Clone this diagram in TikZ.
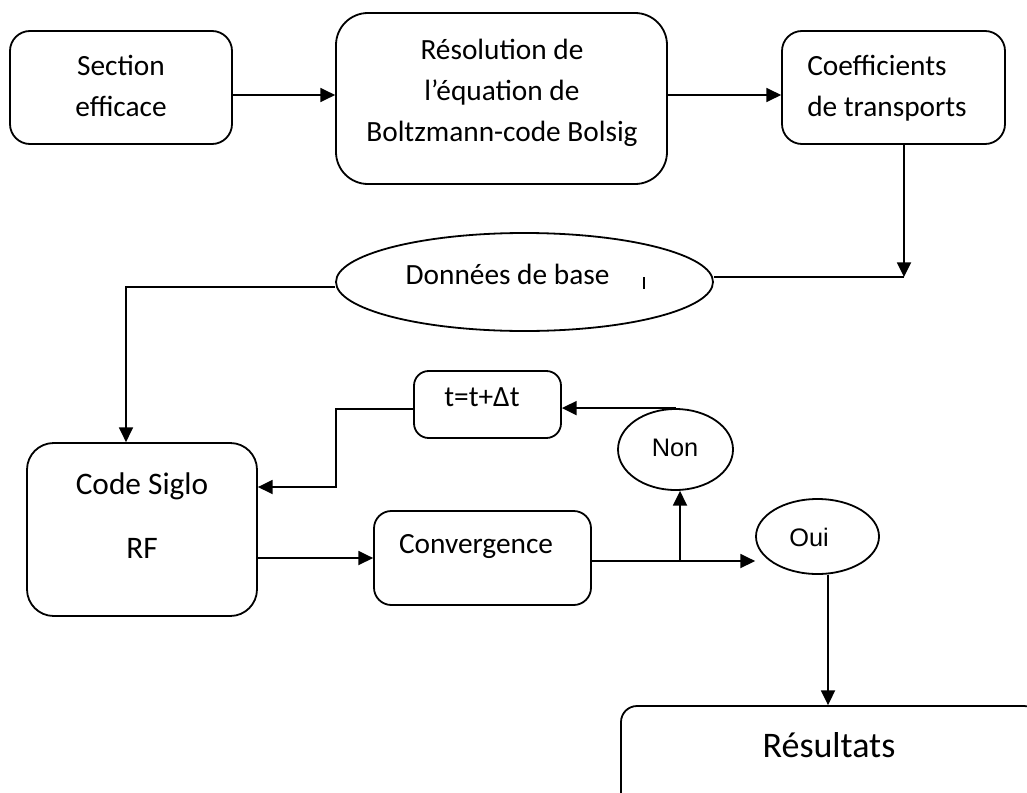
\documentclass[tikz,border=0pt]{standalone}
\usepackage{fontspec}
\setmainfont{Carlito}
\newfontfamily\arialf{Liberation Sans}
\usetikzlibrary{arrows.meta,shapes.geometric}
\tikzset{
  box/.style={draw,line width=1.35pt,rounded corners=#1,inner sep=0pt},
  oval/.style={draw,ellipse,line width=1.35pt,inner sep=0pt},
  txt/.style={inner sep=0pt,font=\fontsize{22pt}{31pt}\selectfont,align=center},
  arr/.style={line width=1.35pt,-{Triangle[length=11pt,width=10.5pt]}},
  ln/.style={line width=1.35pt}
}
\begin{document}
\begin{tikzpicture}[x=0.75pt,y=-0.75pt]
\clip (0,0) rectangle (1027,792);
\fill[white] (0,0) rectangle (1027,792);
% shapes
\node[box=15pt,minimum width=166.5pt,minimum height=84.75pt] (sec) at (121,87.5) {};
\node[box=24pt,minimum width=248.25pt,minimum height=128.25pt] (bol) at (501.5,98.5) {};
\node[box=15pt,minimum width=167.25pt,minimum height=84.75pt] (coef) at (893.5,87.5) {};
\node[oval,minimum width=282.75pt,minimum height=73.5pt] (don) at (524.5,282) {};
\node[box=11pt,minimum width=110.25pt,minimum height=50.25pt] (t) at (487.5,404.5) {};
\node[box=20pt,minimum width=172.5pt,minimum height=129.75pt] (code) at (142,529.5) {};
\node[box=13pt,minimum width=162.75pt,minimum height=70.5pt] (conv) at (482.5,558) {};
\node[oval,minimum width=86.25pt,minimum height=60.75pt] (non) at (675.5,449.5) {};
\node[oval,minimum width=92.25pt,minimum height=56.25pt] (oui) at (817.5,536.5) {};
\node[box=12pt,minimum width=314.25pt,minimum height=78pt] (resu) at (830.5,758) {};
% texts
\node[txt] (sec-t) at (121,86) {Section\\efficace};
\node[txt] (bol-t) at (502,93) {Résolution de\\l’équation de\\Boltzmann-code Bolsig};
\node[txt,align=left,anchor=west] (coef-t) at (807,88) {Coefficients\\de transports};
\node[txt] (don-t) at (507.5,274) {Données de base};
\node[txt] (t-t) at (482,397) {t=t+Δt};
\node[txt,font=\fontsize{23.5pt}{31pt}\selectfont] (code-t) at (142,516) {Code Siglo\\[17pt]RF};
\node[txt] (conv-t) at (476,546) {Convergence};
\node[txt,font=\arialf\fontsize{19pt}{23pt}\selectfont] (non-t) at (675,448) {Non};
\node[txt,font=\arialf\fontsize{19pt}{23pt}\selectfont] (oui-t) at (809,537) {Oui};
\node[txt,font=\fontsize{27pt}{32pt}\selectfont] (resu-t) at (829,745) {Résultats};
\draw[line width=1pt] (644,277) -- (644,289);
% connectors
\coordinate (c1) at (904,277);
\coordinate (c3) at (336,409);
\coordinate (j) at (680,561);
\draw[arr] ([yshift=-5.625pt]sec.east) -- ([yshift=2.625pt]bol.west);
\draw[arr] ([yshift=2.625pt]bol.east) -- ([yshift=-5.625pt]coef.west);
\draw[arr] ([xshift=7.875pt]coef.south) -- (c1);
\draw[ln] (c1) -- (c1 -| don.east);
\draw[arr] ([yshift=-3.75pt]don.west) -| ([xshift=-12pt]code.north);
\draw[arr] ([yshift=-3.375pt]t.west) -- (c3) |- ([yshift=31.875pt]code.east);
\draw[arr] ([yshift=-21.375pt]code.east) -- (conv.west);
\draw[arr] ([yshift=-2.25pt]conv.east) -- (j) -- (j -| oui.west);
\draw[arr] (j) -- (j |- non.south);
\draw[arr] (non.north) -- (non.north -| t.east);
\draw[arr] ([xshift=7.875pt]oui.south) -- ([xshift=7.875pt]oui.south |- resu.north);
\end{tikzpicture}
\end{document}
